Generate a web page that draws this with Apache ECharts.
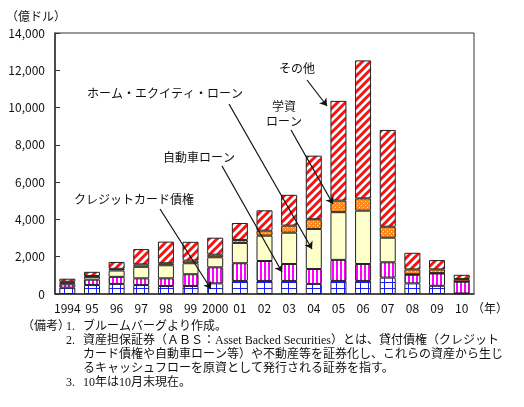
<!DOCTYPE html>
<html>
<head>
<meta charset="utf-8">
<script src="https://cdn.jsdelivr.net/npm/echarts@6/dist/echarts.min.js"></script>
<style>
html, body { margin: 0; padding: 0; background: #fff; }
#chart { width: 524px; height: 407px; }
</style>
</head>
<body>
<div id="chart"></div>
<script>
// 年（カテゴリ）
const years = ['1994', '95', '96', '97', '98', '99', '2000', '01', '02', '03', '04', '05', '06', '07', '08', '09', '10']
// 発行額（億ドル）、下から順に積み上げ
const credit = [340, 480, 540, 480, 430, 430, 570, 700, 700, 700, 540, 700, 700, 880, 570, 440, 30]
const auto = [180, 290, 380, 360, 410, 630, 860, 950, 1070, 910, 800, 1130, 910, 820, 460, 660, 630]
const homeEquity = [90, 150, 340, 620, 700, 590, 540, 1090, 1360, 1680, 2150, 2560, 2860, 1320, 30, 20, 10]
const student = [50, 50, 90, 130, 110, 140, 140, 160, 270, 380, 520, 620, 660, 590, 260, 200, 130]
const other = [160, 220, 370, 820, 1160, 1010, 910, 910, 1090, 1650, 3410, 5350, 7400, 5190, 890, 500, 230]
const yTicks = { min: 0, max: 14000, interval: 2000 }

const notes = [
  ['（備考）', '1.', 'ブルームバーグより作成。'],
  ['', '2.', '資産担保証券（ＡＢＳ：Asset Backed Securities）とは、貸付債権（クレジット'],
  ['', '', 'カード債権や自動車ローン等）や不動産等を証券化し、これらの資産から生じ'],
  ['', '', 'るキャッシュフローを原資として発行される証券を指す。'],
  ['', '3.', '10年は10月末現在。'],
]

const FONT = '"Noto Sans CJK JP", sans-serif'
const NOTE_FONT = '"Liberation Serif", "Noto Sans CJK JP", serif'

function makePattern(w, h, draw) {
  const c = document.createElement('canvas')
  c.width = w
  c.height = h
  const ctx = c.getContext('2d')
  ctx.fillStyle = '#fff'
  ctx.fillRect(0, 0, w, h)
  draw(ctx, w, h)
  return { image: c, repeat: 'repeat' }
}

// クレジットカード：青の格子
const gridFill = makePattern(8, 6, (ctx, w, h) => {
  ctx.fillStyle = '#1a1aff'
  ctx.fillRect(0, 0, 1, h)
  ctx.fillRect(0, 0, w, 1)
})
// 自動車ローン：マゼンタ縦縞
const vStripe = makePattern(4, 4, (ctx, w, h) => {
  ctx.fillStyle = '#ff00ff'
  ctx.fillRect(0, 0, 2, h)
})
// 学資ローン：オレンジ＋点
const dots = makePattern(4, 4, (ctx, w, h) => {
  ctx.fillStyle = '#ff8a1f'
  ctx.fillRect(0, 0, w, h)
  ctx.fillStyle = '#ffd9a8'
  ctx.fillRect(1, 1, 1, 1)
  ctx.fillRect(3, 3, 1, 1)
})
// その他：赤の斜線
const diag = makePattern(8, 8, (ctx, w, h) => {
  ctx.strokeStyle = '#ff1010'
  ctx.lineWidth = 3
  ctx.beginPath()
  for (let k = -8; k <= 8; k += 8) {
    ctx.moveTo(k - 1, h + 1)
    ctx.lineTo(k + w + 1, -1)
  }
  ctx.stroke()
})

function barSeries(name, data, color) {
  return {
    name,
    type: 'bar',
    stack: 'abs',
    barWidth: 16,
    data,
    itemStyle: { color, borderColor: '#222', borderWidth: 1 },
    animation: false,
  }
}

function txt(text, x, y, opt = {}) {
  return {
    type: 'text',
    x,
    y,
    style: Object.assign({
      text,
      font: '12px ' + FONT,
      fill: '#111',
      verticalAlign: 'middle',
    }, opt),
  }
}

const graphics = [
  txt('（億ドル）', 6, 16),
  txt('ホーム・エクイティ・ローン', 87, 93),
  txt('自動車ローン', 163, 157),
  txt('クレジットカード債権', 74, 199),
  txt('その他', 279, 68),
  txt('学資', 284, 106, { align: 'center' }),
  txt('ローン', 284, 121, { align: 'center' }),
  txt('（年）', 472, 308),
]
notes.forEach((row, i) => {
  const y = 327 + i * 14
  if (row[0]) graphics.push(txt(row[0], 22, y, { font: '12px ' + NOTE_FONT }))
  if (row[1]) graphics.push(txt(row[1], 66, y, { font: '12px ' + NOTE_FONT }))
  graphics.push(txt(row[2], 83, y, { font: '12px ' + NOTE_FONT }))
})

const otherSeries = barSeries('その他', other, diag)
otherSeries.markLine = {
  silent: true,
  animation: false,
  symbol: ['none', 'arrow'],
  symbolSize: 7,
  label: { show: false },
  lineStyle: { color: '#111', width: 1.2, type: 'solid' },
  data: [
    [{ x: 307, y: 80 }, { x: 327, y: 106 }],
    [{ x: 291, y: 130 }, { x: 333, y: 204 }],
    [{ x: 229, y: 104 }, { x: 312, y: 249 }],
    [{ x: 222, y: 166 }, { x: 282, y: 272 }],
    [{ x: 160, y: 209 }, { x: 211, y: 289 }],
  ],
}

const chart = echarts.init(document.getElementById('chart'))
chart.setOption({
  animation: false,
  grid: {
    left: 55,
    right: 50,
    top: 33,
    bottom: 113,
    show: true,
    borderColor: '#333',
    borderWidth: 1,
  },
  xAxis: {
    type: 'category',
    data: years,
    axisTick: { show: false },
    axisLine: { lineStyle: { color: '#333', width: 1.5 } },
    axisLabel: { interval: 0, margin: 8, fontSize: 12, color: '#111', fontFamily: FONT },
  },
  yAxis: {
    type: 'value',
    min: yTicks.min,
    max: yTicks.max,
    interval: yTicks.interval,
    axisLine: { show: true, lineStyle: { color: '#333', width: 1.5 } },
    axisTick: { show: true, inside: true, length: 5, lineStyle: { color: '#333' } },
    splitLine: { show: false },
    axisLabel: {
      margin: 10,
      fontSize: 12,
      color: '#111',
      fontFamily: FONT,
      formatter: (v) => v.toLocaleString('en-US'),
    },
  },
  series: [
    barSeries('クレジットカード債権', credit, gridFill),
    barSeries('自動車ローン', auto, vStripe),
    barSeries('ホーム・エクイティ・ローン', homeEquity, '#ffffcc'),
    barSeries('学資ローン', student, dots),
    otherSeries,
  ],
  graphic: graphics,
})
</script>
</body>
</html>
